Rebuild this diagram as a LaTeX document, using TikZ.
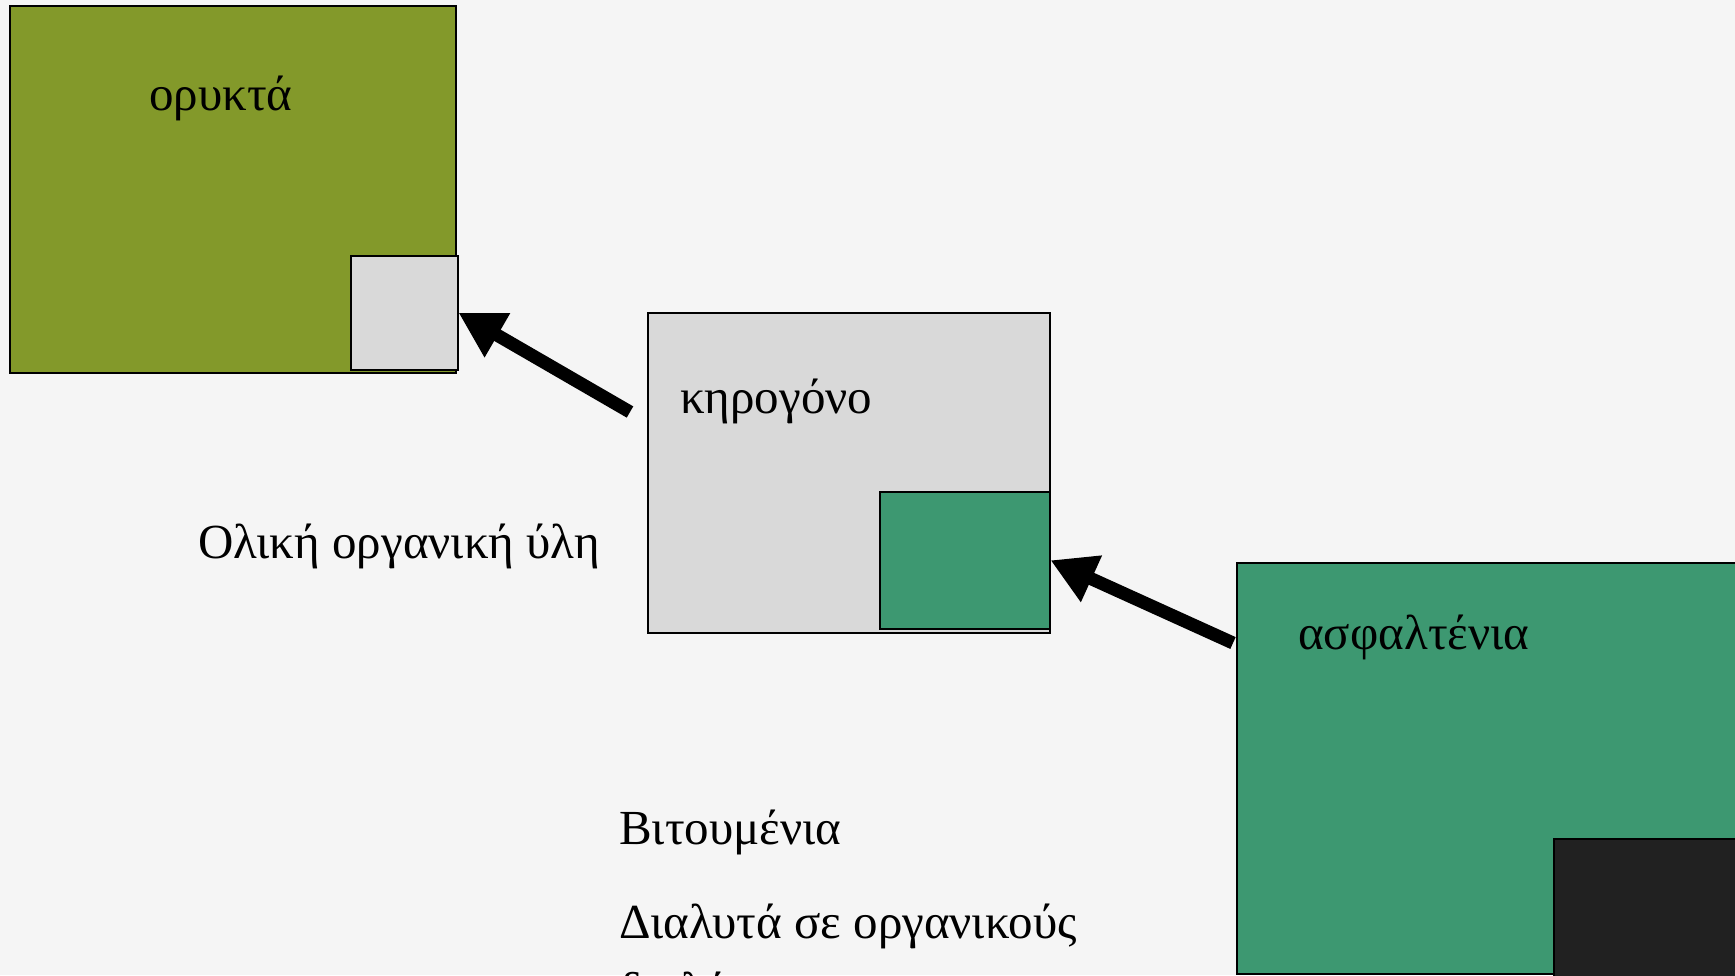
\documentclass[tikz,border=0pt]{standalone}
\usepackage{fontspec}
\setmainfont{Liberation Serif}
\usetikzlibrary{arrows.meta}
\definecolor{bgcol}{HTML}{F5F5F5}
\definecolor{olivebox}{HTML}{83992A}
\definecolor{graybox}{HTML}{D9D9D9}
\definecolor{tealbox}{HTML}{3D9871}
\definecolor{darkbox}{HTML}{212121}
\tikzset{
  box/.style={draw=black, line width=1.5pt, inner sep=0pt, anchor=north west},
  lbl/.style={inner sep=0pt, anchor=base west, font=\fontsize{49}{68}\selectfont},
  bigarrow/.style={line width=13pt, -{Triangle[length=45pt,width=48pt]}}
}
\begin{document}
\begin{tikzpicture}[x=1pt,y=-1pt]
\useasboundingbox (0,0) rectangle (1735,975);
\clip (0,0) rectangle (1735,975);
\fill[bgcol] (0,0) rectangle (1735,975);
% top-left olive box
\node[box, fill=olivebox, minimum width=446pt, minimum height=367pt] (oryk) at (9,5) {};
\node[box, fill=graybox, minimum width=107pt, minimum height=114pt] (sgray) at (350,255) {};
% middle grey box
\node[box, fill=graybox, minimum width=402pt, minimum height=320pt] (kero) at (647,312) {};
\node[box, fill=tealbox, minimum width=170pt, minimum height=137pt] (steal) at (879,491) {};
% bottom-right teal box
\node[box, fill=tealbox, minimum width=520pt, minimum height=411pt] (asph) at (1236,562) {};
\node[box, fill=darkbox, minimum width=200pt, minimum height=150pt] (sdark) at (1553,838) {};
% labels
\node[lbl] (t1) at (149,110) {ορυκτά};
\node[lbl] (t2) at (680,413) {κηρογόνο};
\node[lbl] (t3) at (198,558) {Ολική οργανική ύλη};
\node[lbl] (t4) at (1298,649) {ασφαλτένια};
\node[lbl] (t5) at (619,844) {Βιτουμένια};
\node[lbl] (t6) at (619,938) {Διαλυτά σε οργανικούς};
\node[lbl] (t7) at (619,1006) {διαλύτες};
% arrows
\coordinate (a1) at (630,412);
\coordinate (a2) at (1233,643);
\draw[bigarrow] (a1) -- (sgray.east);
\draw[bigarrow] (a2) -- (steal.east);
\end{tikzpicture}
\end{document}
